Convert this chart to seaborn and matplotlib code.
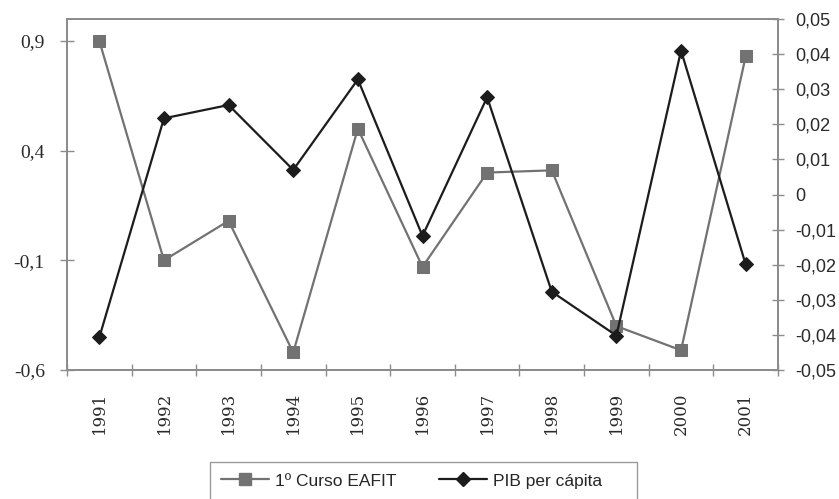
import numpy as np
import pandas as pd
import matplotlib
matplotlib.use("Agg")
import matplotlib.pyplot as plt
from matplotlib.lines import Line2D
from matplotlib.patches import Rectangle
import seaborn as sns

# Series data
years = ["1991", "1992", "1993", "1994", "1995", "1996",
         "1997", "1998", "1999", "2000", "2001"]
curso_eafit = [0.90, -0.10, 0.08, -0.52, 0.50, -0.13,
               0.30, 0.31, -0.40, -0.51, 0.83]
pib_per_capita = [-0.0407, 0.0217, 0.0255, 0.0070, 0.0328, -0.0118,
                  0.0277, -0.0277, -0.0402, 0.0410, -0.0199]

left_ticks = [-0.6, -0.1, 0.4, 0.9]
left_labels = ["-0,6", "-0,1", "0,4", "0,9"]
right_ticks = [-0.05, -0.04, -0.03, -0.02, -0.01, 0.0, 0.01, 0.02, 0.03, 0.04, 0.05]
right_labels = ["-0,05", "-0,04", "-0,03", "-0,02", "-0,01", "0",
                "0,01", "0,02", "0,03", "0,04", "0,05"]

name_a = "1º Curso EAFIT"
name_b = "PIB per cápita"

df = pd.DataFrame({
    "pos": np.arange(len(years)),
    "year": years,
    "curso": curso_eafit,
    "pib": pib_per_capita,
})

sns.set_theme(style="white")
plt.rcParams["font.family"] = ["Liberation Sans", "DejaVu Sans"]

GRAY_LINE = "#727272"
DARK_LINE = "#1c1c1c"
SPINE = "#8c8c8c"
TEXT = "#2a2a2a"

fig = plt.figure(figsize=(8.39, 4.99), dpi=100)
ax = fig.add_axes([67 / 839, 1 - 370 / 499, (778 - 67) / 839, (370 - 19) / 499])
ax2 = ax.twinx()

sns.lineplot(data=df, x="pos", y="curso", ax=ax, color=GRAY_LINE, lw=1.6,
             marker="s", markersize=9, markeredgecolor=GRAY_LINE, sort=False)
sns.lineplot(data=df, x="pos", y="pib", ax=ax2, color=DARK_LINE, lw=1.6,
             marker="D", markersize=7, markeredgecolor=DARK_LINE, sort=False)

# x axis: labels on categories, tick marks on category boundaries
ax.set_xlim(-0.5, len(years) - 0.5)
ax.set_xticks(df["pos"])
ax.set_xticklabels(years, rotation=90, family="DejaVu Serif", fontsize=12,
                   color=TEXT)
ax.set_xticks(np.arange(-0.5, len(years), 1.0), minor=True)
ax.tick_params(axis="x", which="major", length=0, pad=16)
ax.tick_params(axis="x", which="minor", direction="inout", length=9,
               width=1.0, color=SPINE, bottom=True)

# left axis
ax.set_ylim(-0.6, 1.0)
ax.set_yticks(left_ticks)
ax.set_yticklabels(left_labels, family="Liberation Serif", fontsize=14,
                   color=TEXT)
ax.tick_params(axis="y", direction="inout", length=10, width=1.0,
               color=SPINE, pad=11, left=True)

# right axis
ax2.set_ylim(-0.05, 0.05)
ax2.set_yticks(right_ticks)
ax2.set_yticklabels(right_labels, family="Liberation Sans", fontsize=13,
                    color=TEXT)
ax2.tick_params(axis="y", direction="inout", length=8.5, width=1.0,
                color=SPINE, pad=8, right=True)

ax.set_xlabel("")
ax.set_ylabel("")
ax2.set_ylabel("")
ax.grid(False)
ax2.grid(False)

for a in (ax, ax2):
    for side, sp in a.spines.items():
        sp.set_visible(True)
        sp.set_color(SPINE)
        sp.set_linewidth(1.4)

# legend below the chart
handles = [
    Line2D([], [], color=GRAY_LINE, lw=1.6, marker="s", markersize=9,
           markeredgecolor=GRAY_LINE),
    Line2D([], [], color=DARK_LINE, lw=1.6, marker="D", markersize=7,
           markeredgecolor=DARK_LINE),
]
fig.legend(handles, [name_a, name_b], loc="center left",
           bbox_to_anchor=(212 / 839, 1 - 481 / 499), ncol=2,
           frameon=False, borderpad=0, handlelength=2.8, handletextpad=0.35,
           columnspacing=2.4, numpoints=1,
           prop={"family": "Liberation Sans", "size": 12.5})
fig.patches.append(Rectangle((210 / 839, 1 - 502 / 499), (637 - 210) / 839,
                             (502 - 462) / 499, transform=fig.transFigure,
                             fill=False, edgecolor="#9a9a9a", lw=1.0))

fig.savefig("out.png", dpi=100, facecolor="white")
